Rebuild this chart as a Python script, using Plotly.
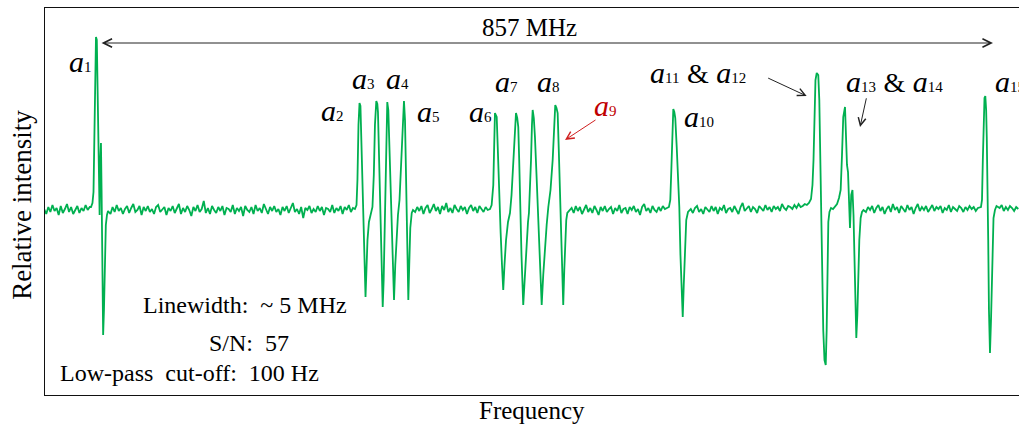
import numpy as np
import plotly.graph_objects as go

# ---------------- data (frequency in MHz relative to a1, intensity in arb. units) ----------------
STEP = 2  # MHz sampling of the flat baseline stretches

base0_start = -50
base0_int = [0.5, -2, 1.5, -1, 2.5, -0.5, 1, -2.5, 2, -1.5, 0.5, 3, -1, 1.5, -2, 0, 2, -1.5,
             1, -0.5, 2.5, 0, 1.5]

a1_freq = [-4.8, -3.4, -2.4, -1.6, -0.8, 0.0, 0.8, 1.5, 2.2, 2.9, 3.5, 4.2, 4.8, 5.4, 6.1, 6.9,
           7.7, 8.5, 9.5, 10.6, 11.6]
a1_int = [1.5, 3.5, 9, 30, 65, 86.5, 85, 57.5, 31, 10, -2.5, 25, 33.5, 10, -30, -62.5,
          -50, -22.5, -7.5, -2.5, -0.5]

base1_start = 14
base1_int = [-2, 1.5, -1, 2.5, -0.5, 1, -2, 0.5, 2, -1.5,
             1, 3, -1, 0, 2, -2.5, 1.5, -0.5, 2, -1,
             0.5, -2, 1.5, 2.5, -1, 0, 1.5, -2.5, 1, -0.5,
             2, -1.5, 0.5, 3, -2, 1, -1, 2, 0, -3,
             1.5, -0.5, 2.5, -1, 0.5, 4.5, -1.5, 1, -2, 2,
             0, -1.5, 1.5, -0.5, 2, -2.5, 1, 0.5, -1, 2.5,
             -2, 1, -0.5, 1.5, -3, 2, 0, -1, 1.5, -2,
             2.5, -0.5, 1, -1.5, 3, 0, -2, 1.5, -0.5, 2,
             -1, 0.5, -2.5, 1.5, -0.5, 2, -1.5, 1, 3.5, -1,
             0.5, -2, 1.5, -4, 1, 0, 2, -1.5, 0.5, -1,
             2, -0.5, 1.5, -2.5, 1, 0.5, -1, 2.5, -1.5, 1,
             -0.5, 2, -2, 1.5, 0, 2.5, -1, 1]

a2_a5_freq = [249.9, 251.4, 252.3, 253.3, 254.3, 255.2, 256.0, 257.0, 257.9, 258.9, 260.1, 261.0,
              262.0, 263.4, 264.9, 266.8, 268.1, 269.2, 270.5, 271.5, 272.1, 273.4, 274.5, 275.5,
              276.7, 277.6, 278.7, 279.9, 281.1, 282.1, 283.2, 284.4, 285.6, 287.6, 288.8, 290.2,
              291.4, 292.9, 294.3, 295.8, 297.2, 298.2, 299.2, 300.1, 301.4, 302.3, 303.3, 304.7,
              305.9]
a2_a5_int = [0.5, 2.5, 15, 42.5, 53.5, 52, 35, 10, -7.5, -26, -43.5, -30,
             -15, -6, -2.5, 1.5, 17.5, 42.5, 54.5, 53, 49, 25, 2.5, -22.5,
             -48.5, -35, -2.5, 30, 54, 50, 30, 5, -20, -45, -27.5, -11,
             -2.5, 5, 22.5, 42.5, 54.5, 45, 17.5, -15, -45, -27.5, -9, -1.5,
             0]

base2_start = 308
base2_int = [-1, 1.5, -0.5, 2, -2, 1, 2.5, -1.5, 0.5, 3,
             -0.5, 1.5, -2, 2, 0, 3.5, -1, 1, -1.5, 2.5,
             0.5, -1, 2, 0, 1.5, -2, 1, 2.5, -0.5, 1.5,
             -1.5, 2, 0.5, -1, 1.5, 0]

a6_a9_freq = [380.2, 381.8, 383.4, 384.4, 385.0, 386.7, 387.9, 388.9, 390.5, 391.8, 393.0, 394.2,
              395.7, 397.6, 399.5, 401.0, 402.1, 403.7, 405.3, 406.5, 407.5, 408.4, 409.2, 410.6,
              412.3, 414.0, 415.6, 416.9, 417.8, 418.8, 419.8, 420.7, 421.4, 422.5, 423.6, 425.3,
              426.8, 428.5, 430.1, 431.6, 433.3, 434.9, 436.5, 438.6, 440.7, 442.0, 443.2, 444.4,
              445.5, 446.6, 447.8, 449.2, 450.9, 451.9, 452.9, 453.8, 454.8, 456.4]
a6_a9_int = [0.5, 2.5, 12.5, 35, 48.5, 46.5, 25, 8.5, -11.5, -27.5, -40, -27.5,
             -15, -6, -1.5, 7.5, 17.5, 37.5, 48.5, 46, 41.5, 25, 5, -22.5,
             -47.5, -30, -16.5, -6, -1.5, 10, 25, 42.5, 50, 46, 36.5, 15,
             -5, -27.5, -47.5, -32.5, -18.5, -7.5, 1.5, 10, 25, 42.5, 52.5, 51,
             48.5, 30, 8.5, -20, -47.5, -30, -11.5, -5, -1.5, -0.5]

base3_start = 459
base3_int = [1, -1.5, 2, -0.5, 1.5, -2, 0.5, 2.5, -1, 1,
             -1.5, 2, 0, -2.5, 1.5, -0.5, 2, -1, 0.5, 1.5,
             -2, 1, -0.5, 2.5, -1.5, 0.5, 1, -2, 1.5, 0,
             2, -1, 0.5, -2.5, 1.5, 3, -0.5, 1, -1.5, 2,
             0, -1, 1.5, -0.5, 2, 0.5]

a10_freq = [552.9, 554.2, 555.2, 556.1, 557.1, 558.1, 559.0, 560.4, 561.6, 562.9, 564.0, 565.0,
            566.2, 567.2, 568.4, 569.6, 571.3]
a10_int = [1.5, 5, 20, 40, 50.5, 49, 46, 31.5, 16.5, 1.5, -22.5, -42.5,
           -53.5, -37.5, -15, -5, -1]

base4_start = 574
base4_int = [0.5, -1.5, 1, 2, -1, 0.5, -2, 1.5, 0, -1,
             2, -0.5, 1.5, -2, 1, 0, 2.5, -1.5, 0.5, 1,
             -1, 2, 0, -2, 1.5, 3.5, -0.5, 1, 2, -1,
             1.5, 0.5, -1.5, 2, 1, -0.5, 2.5, 0, 1.5, -1,
             2, 0.5, 1.5, -0.5, 3, 1, 0, 2, 1.5, 0.5,
             2.5, 1, 3, 1.5, 2, 3, 2.5]

a11_a12_freq = [688.0, 690.0, 691.4, 692.4, 693.4, 694.3, 695.5, 697.0, 698.0, 698.9, 699.8,
                700.8, 701.8, 703.0, 704.2, 705.1, 705.9, 706.7, 707.8, 709.3]
a11_a12_int = [3.5, 5.5, 12.5, 25, 50, 65, 68.5, 67.5, 55, 25, -10,
               -40, -60, -75, -77.5, -60, -25, -6, -1, 1]

a13_a14_freq = [711.2, 713.1, 715.1, 717.0, 718.6, 719.9, 721.1, 722.8, 723.8, 724.7, 725.7,
                726.6, 727.6, 728.8, 730.0, 731.0, 731.9, 732.7, 733.7, 734.7, 735.6, 736.6,
                737.9, 739.2, 740.6]
a13_a14_int = [0.5, 1.5, 3, 6, 10, 27.5, 46.5, 51.5, 38.5, 22.5, 19,
               2.5, -9, 7.5, 10, -2.5, -25, -50, -64, -52.5, -30, -15,
               -4, -1, 0]

base5_start = 743
base5_int = [-1, 1.5, 0, 2, -1.5, 1, 2.5, -0.5, 1.5, -2,
             0.5, 2, -1, 3, 0, 1.5, -1.5, 2, 0.5, -1,
             2.5, 0, 1.5, -2, 1, 3, -0.5, 1.5, 0, 2,
             -1, 1, 2.5, -0.5, 1.5, 0.5, 2, -1.5, 1, 0,
             2.5, -1, 1.5, 0.5, -0.5, 2, 1, -1, 1.5, 0,
             2, 0.5, 1.5, -0.5, 1]

a15_freq = [854.0, 855.0, 855.8, 856.4, 857.4, 858.2, 859.0, 859.6, 860.3, 861.0, 861.7, 862.7,
            863.7, 864.4, 865.3, 866.1, 867.5, 869.0]
a15_int = [1.5, 5, 25, 45, 56, 57, 50, 36.5, 15, -15, -50, -71.5,
           -55, -35, -15, -4, 0, 2]

base6_start = 872
base6_int = [1, 2.5, -0.5, 1.5, 0, 2, 1, -0.5, 1.5, 0.5]

span_label = "857 MHz"
stats_text = ["Linewidth:  ~ 5 MHz", "S/N:  57", "Low-pass  cut-off:  100 Hz"]
peak_labels = ["1", "2", "3", "4", "5", "6", "7", "8", "9", "10", ("11", "12"), ("13", "14"), "15"]


# ---------------- assemble spectrum ----------------
def baseline(start, vals):
    return [start + STEP * i for i in range(len(vals))], list(vals)

pieces = [
    baseline(base0_start, base0_int), (a1_freq, a1_int),
    baseline(base1_start, base1_int), (a2_a5_freq, a2_a5_int),
    baseline(base2_start, base2_int), (a6_a9_freq, a6_a9_int),
    baseline(base3_start, base3_int), (a10_freq, a10_int),
    baseline(base4_start, base4_int), (a11_a12_freq, a11_a12_int), (a13_a14_freq, a13_a14_int),
    baseline(base5_start, base5_int), (a15_freq, a15_int),
    baseline(base6_start, base6_int),
]
freq, inten = [], []
for fx, fy in pieces:
    freq += list(fx)
    inten += list(fy)

GREEN = "#00b050"
SERIF = "Liberation Serif, Times New Roman, serif"

fig = go.Figure()
fig.add_trace(go.Scatter(x=freq, y=inten, mode="lines",
                         line=dict(color=GREEN, width=1.8), hoverinfo="skip", showlegend=False))

def alabel(n):
    return f"<i>a</i><span style='font-size:15px'>{n}</span>"

def lbl(item):
    if isinstance(item, tuple):
        return alabel(item[0]) + " <span style='font-size:28px'>&amp;</span> " + alabel(item[1])
    return alabel(item)

# label anchor positions (MHz, intensity)
label_pos = [(-14.5, 74.5), (228.7, 50), (257.7, 66), (290.5, 66), (320.4, 49.5), (370.6, 49.5),
             (396.6, 64.5), (436.2, 64.5), (491.2, 52.5), (581.9, 47), (580.9, 69), (770.1, 64.5),
             (865.6, 64.5)]
ann = []
for i, (item, (x, y)) in enumerate(zip(peak_labels, label_pos)):
    ann.append(dict(x=x, y=y, xref="x", yref="y", text=lbl(item), showarrow=False,
                    xanchor="left" if i == 12 else "center", yanchor="middle",
                    font=dict(family=SERIF, size=30,
                              color="#c00000" if item == "9" else "black")))

# double arrow spanning a1 .. a15
ann.append(dict(x=865.6, y=83.5, ax=3.9, ay=83.5, xref="x", yref="y", axref="x", ayref="y",
                text="", showarrow=True, arrowside="end+start", arrowhead=5, startarrowhead=5,
                arrowsize=1.7, startarrowsize=1.7, arrowwidth=1, arrowcolor="#222222"))
ann.append(dict(x=418.8, y=91.5, xref="x", yref="y", text=span_label, showarrow=False,
                font=dict(family=SERIF, size=25, color="black")))

# pointer arrows
ann.append(dict(x=452.6, y=35, ax=483.5, ay=45.5, xref="x", yref="y", axref="x", ayref="y",
                text="", showarrow=True, arrowhead=5, arrowsize=1.5, arrowwidth=1,
                arrowcolor="#d02020"))
ann.append(dict(x=685.8, y=57, ax=647.2, ay=66.3, xref="x", yref="y", axref="x", ayref="y",
                text="", showarrow=True, arrowhead=5, arrowsize=1.5, arrowwidth=1,
                arrowcolor="#222222"))
ann.append(dict(x=737.3, y=41.5, ax=743.7, ay=56.6, xref="x", yref="y", axref="x", ayref="y",
                text="", showarrow=True, arrowhead=5, arrowsize=1.5, arrowwidth=1,
                arrowcolor="#222222"))

# stats text
stats_pos = [(143.8, -47.5), (147.6, -66.5), (90.7, -81.5)]
for t, (x, y) in zip(stats_text, stats_pos):
    ann.append(dict(x=x, y=y, xref="x", yref="y", text=t, showarrow=False,
                    font=dict(family=SERIF, size=24, color="black")))

# axis titles
ann.append(dict(x=0.5, y=-0.039, xref="paper", yref="paper", text="Frequency", showarrow=False,
                yanchor="middle", font=dict(family=SERIF, size=25, color="black")))
ann.append(dict(x=-0.0231, y=0.49, xref="paper", yref="paper", text="Relative intensity",
                showarrow=False, textangle=-90, xanchor="center", yanchor="middle",
                font=dict(family=SERIF, size=27, color="black")))

fig.update_layout(
    width=1019, height=425,
    margin=dict(l=45, r=0, t=8, b=30),
    paper_bgcolor="white", plot_bgcolor="white",
    annotations=ann,
    xaxis=dict(range=[-49.2, 890.7], showticklabels=False, ticks="", showgrid=False,
               zeroline=False, showline=True, linecolor="#111111", linewidth=1.3, mirror=True),
    yaxis=dict(range=[-92.5, 101], showticklabels=False, ticks="", showgrid=False,
               zeroline=False, showline=True, linecolor="#111111", linewidth=1.3, mirror=False),
)

fig.write_html("out.html", config={"displayModeBar": False})
